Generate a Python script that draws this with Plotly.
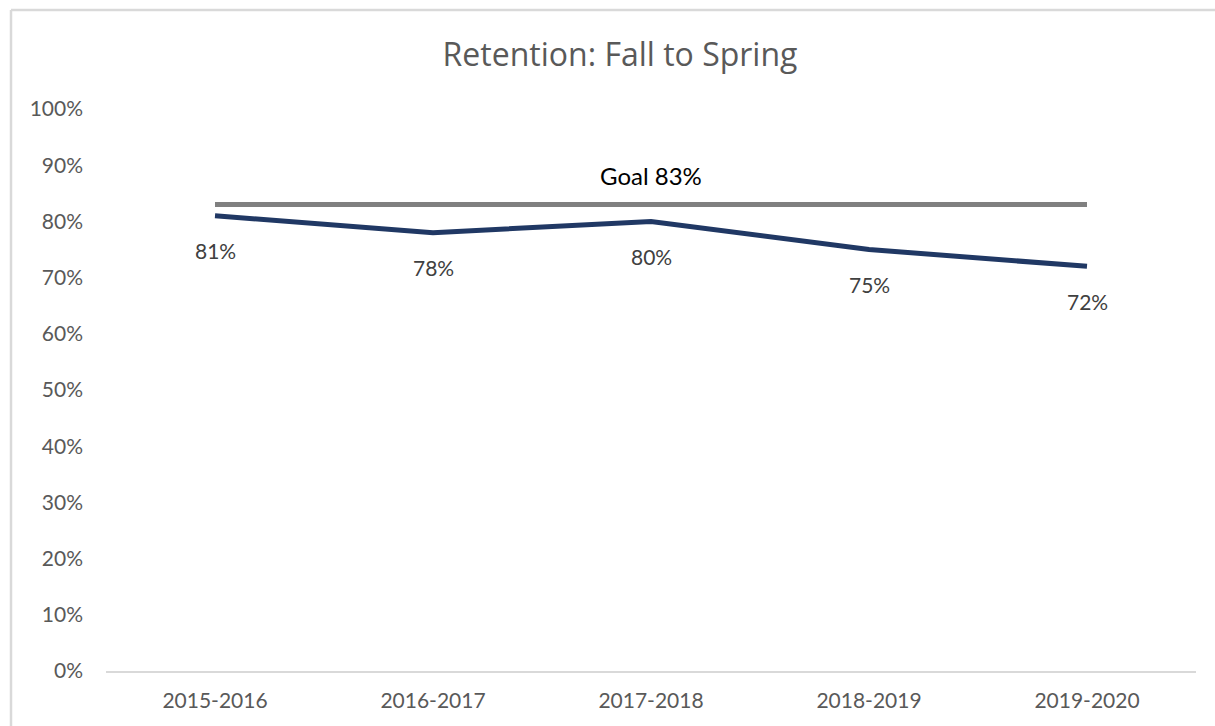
import plotly.graph_objects as go

years = ["2015-2016", "2016-2017", "2017-2018", "2018-2019", "2019-2020"]
retention = [0.81, 0.78, 0.80, 0.75, 0.72]
goal = [0.83, 0.83, 0.83, 0.83, 0.83]
goal_label = "Goal 83%"
y_ticks = [i / 10 for i in range(11)]

FONT = "Lato"
fig = go.Figure()

fig.add_trace(go.Scatter(
    x=years, y=goal, mode="lines",
    line=dict(color="#808080", width=5),
    hoverinfo="skip", showlegend=False,
))
fig.add_trace(go.Scatter(
    x=years, y=retention, mode="lines",
    line=dict(color="#203864", width=5),
    showlegend=False,
))

for x, v in zip(years, retention):
    fig.add_annotation(x=x, y=v, text=f"{round(v*100)}%", showarrow=False,
                       yshift=-35, font=dict(family=FONT, size=21, color="#404040"))

mid = len(years) // 2
fig.add_annotation(x=years[mid], y=goal[mid], text=goal_label, showarrow=False,
                   yshift=29, font=dict(family=FONT, size=24, color="#000000"))

# chart border (top and left visible)
fig.add_shape(type="line", xref="paper", yref="paper",
              x0=(11 - 106) / 1090, x1=1.2, y0=(671 - 10) / 562, y1=(671 - 10) / 562,
              line=dict(color="#d9d9d9", width=2.5))
fig.add_shape(type="line", xref="paper", yref="paper",
              x0=(11 - 106) / 1090, x1=(11 - 106) / 1090, y0=(671 - 10) / 562, y1=-0.3,
              line=dict(color="#d9d9d9", width=2.5))

fig.update_layout(
    width=1215, height=726,
    margin=dict(l=106, r=19, t=109, b=55),
    paper_bgcolor="white", plot_bgcolor="white",
    title=dict(text="Retention: Fall to Spring", x=(620 - 106) / 1090, xref="paper", xanchor="center",
               y=(726 - 55) / 726, yanchor="middle",
               font=dict(family="Open Sans", size=32, color="#595959")),
    xaxis=dict(
        showgrid=False, showline=True, linecolor="#d9d9d9", linewidth=2,
        ticks="", tickfont=dict(family=FONT, size=21, color="#595959"),
        ticklabelstandoff=10, range=[-0.5, 4.5], fixedrange=True,
    ),
    yaxis=dict(
        range=[0, 1], tickvals=y_ticks, tickformat=".0%",
        showgrid=False, zeroline=False, showline=False, ticks="",
        tickfont=dict(family=FONT, size=21, color="#595959"),
        ticklabelstandoff=22,
    ),
)

fig.write_html("out.html", config={"displayModeBar": False},
               post_script="document.body.style.margin='0';")
